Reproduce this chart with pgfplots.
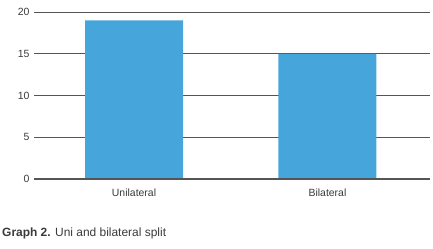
\documentclass[border=0pt]{standalone}
\usepackage{pgfplots}
\pgfplotsset{compat=1.18}
\usepackage{fontspec}
\setmainfont{Liberation Sans}
\definecolor{barblue}{HTML}{46A6DB}
\definecolor{gridc}{HTML}{555555}
\definecolor{txt}{HTML}{3A3A3A}
\begin{document}
\begin{tikzpicture}[x=1bp,y=1bp]
\useasboundingbox (0,0) rectangle (433,248);
\begin{axis}[
  at={(34bp,69bp)}, anchor=south west,
  scale only axis, width=396bp, height=167bp,
  xmin=-0.517, xmax=1.53, ymin=0, ymax=20,
  ytick={0,5,10,15,20},
  xtick={0,1}, xticklabels={Unilateral,Bilateral},
  axis line style={draw=none},
  major tick length=0pt,
  ymajorgrids, grid style={gridc, line width=0.9bp},
  ticklabel style={font=\fontsize{10.5}{12}\selectfont, text=txt},
  yticklabel style={xshift=-1bp},
  xticklabel style={yshift=-6bp},
  /pgf/number format/assume math mode=true,
  clip=false,
]
\addplot[ybar, bar width=98bp, fill=barblue, draw=none] coordinates {(0,19) (1,15)};
\draw[gridc, line width=2bp] (axis cs:-0.517,0) -- (axis cs:1.53,0);
\end{axis}
\node[anchor=west, inner sep=0pt, text=txt, font=\fontsize{12}{14}\selectfont] at (2,15) {\textbf{Graph 2.} Uni and bilateral split};
\end{tikzpicture}
\end{document}
